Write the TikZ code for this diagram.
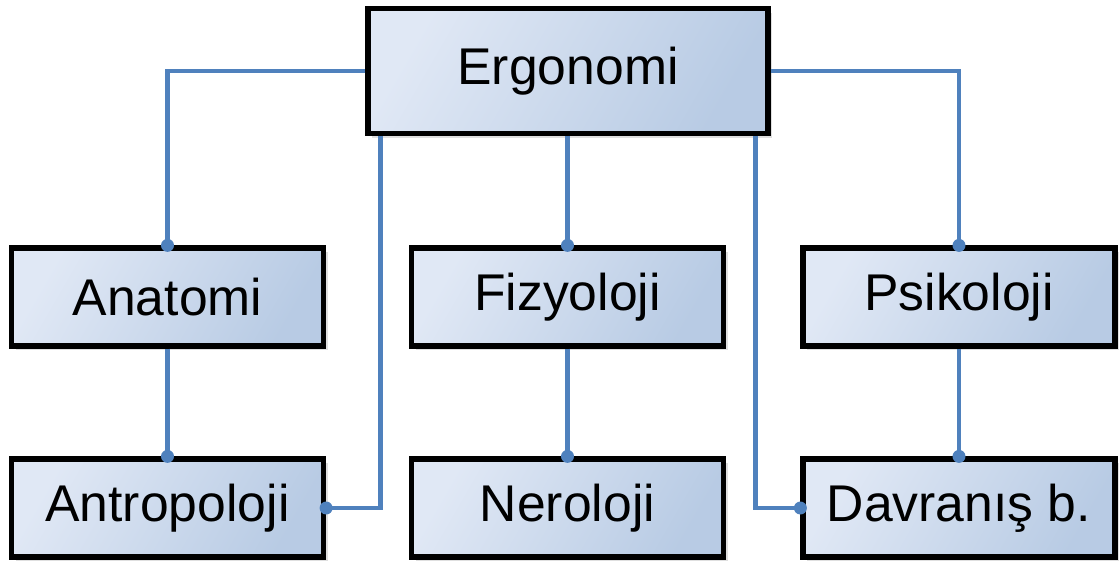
\documentclass[tikz,border=0pt]{standalone}
\usepackage{fontspec}
\setmainfont{Liberation Sans}
\usetikzlibrary{shadows}

\definecolor{linkblue}{RGB}{79,129,189}
\definecolor{boxlight}{RGB}{224,232,245}
\definecolor{boxdark}{RGB}{184,203,228}

\begin{document}
\begin{tikzpicture}[line width=0.3mm,
  box/.style={draw=black,line width=1.5pt,left color=boxlight,right color=boxdark,
    shading angle=60,minimum width=3.12cm,minimum height=0.98cm,inner sep=0pt,
    font=\fontsize{14.7}{17}\selectfont,
    drop shadow={shadow xshift=0.04cm,shadow yshift=-0.04cm,opacity=0.25}},
  link/.style={linkblue,line width=1.3pt}]

\useasboundingbox (0,0) rectangle (11.2,5.62);

\node[box,minimum width=4cm,minimum height=1.25cm] (ergo) at (5.68,4.91) {Ergonomi};

\node[box] (anat) at (1.675,2.65) {Anatomi};
\node[box] (fizy) at (5.675,2.65) {Fizyoloji};
\node[box] (psik) at (9.59,2.65) {Psikoloji};

\node[box] (antr) at (1.675,0.54) {Antropoloji};
\node[box] (nero) at (5.675,0.54) {Neroloji};
\node[box] (davr) at (9.59,0.54) {Davranı\c{s} b.};

\draw[link] (ergo.west) -| (anat.north);
\draw[link] (ergo.east) -| (psik.north);
\draw[link] (ergo.south -| fizy.north) -- (fizy.north);
\draw[link] ([xshift=0.15cm]ergo.south west) |- (antr.east);
\draw[link] ([xshift=-0.15cm]ergo.south east) |- (davr.west);
\draw[link] (anat.south) -- (antr.north);
\draw[link] (fizy.south) -- (nero.north);
\draw[link] (psik.south) -- (davr.north);

\fill[linkblue] (anat.north) circle(0.065cm);
\fill[linkblue] (fizy.north) circle(0.065cm);
\fill[linkblue] (psik.north) circle(0.065cm);
\fill[linkblue] (antr.north) circle(0.065cm);
\fill[linkblue] (nero.north) circle(0.065cm);
\fill[linkblue] (davr.north) circle(0.065cm);
\fill[linkblue] (antr.east) circle(0.065cm);
\fill[linkblue] (davr.west) circle(0.065cm);

\end{tikzpicture}
\end{document}
